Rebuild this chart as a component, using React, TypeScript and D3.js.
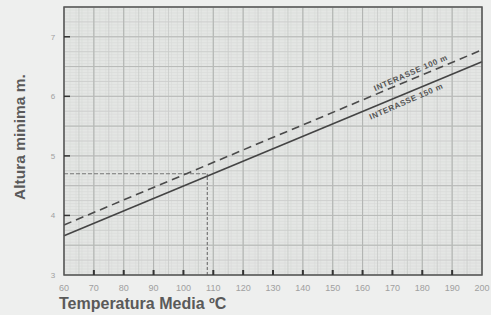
import React from "react";
import * as d3 from "d3";

const temps = [60, 200];
const interasse100 = [3.84, 6.78];
const interasse150 = [3.66, 6.58];
const xTicks = [60, 70, 80, 90, 100, 110, 120, 130, 140, 150, 160, 170, 180, 190, 200];
const yTicks = [3, 4, 5, 6, 7];
const refTemp = [108];
const refAltura = [4.7];
const lineLabels = ["INTERASSE 100 m", "INTERASSE 150 m"];

const W = 491, H = 315;
const L = 64, R = 482, T = 7, B = 275;

export default function App() {
  const x = d3.scaleLinear().domain([60, 200]).range([L, R]);
  const y = d3.scaleLinear().domain([3, 7.5]).range([B, T]);

  const minorX = d3.range(60, 200.01, 2);
  const midX = d3.range(60, 200.01, 5);
  const majorX = d3.range(60, 200.01, 10);
  const minorY = d3.range(3, 7.501, 0.05);
  const midY = d3.range(3, 7.501, 0.25);
  const majorY = d3.range(3, 7.501, 0.5);

  const line = d3.line<[number, number]>().x(d => x(d[0])).y(d => y(d[1]));
  const d100 = line(temps.map((t, i) => [t, interasse100[i]] as [number, number]))!;
  const d150 = line(temps.map((t, i) => [t, interasse150[i]] as [number, number]))!;

  const ang = (Math.atan2(y(interasse150[1]) - y(interasse150[0]), x(temps[1]) - x(temps[0])) * 180) / Math.PI - 1;

  const lab = (t: number, vals: number[], off: number) => {
    const v = vals[0] + ((vals[1] - vals[0]) * (t - temps[0])) / (temps[1] - temps[0]);
    return [x(t), y(v) + off];
  };
  const p1 = lab(176.5, interasse100, -4);
  const p2 = lab(175, interasse150, 11);

  const font = "Liberation Sans, Arial, sans-serif";

  return (
    <svg width={W} height={H} style={{ position: "absolute", left: 0, top: 0 }}>
      <rect x={0} y={0} width={W} height={H} fill="#eeefee" />
      <rect x={L} y={T} width={R - L} height={B - T} fill="#e4e6e4" />
      {minorX.map(v => (
        <line key={"mx" + v} x1={x(v)} x2={x(v)} y1={T} y2={B} stroke="#d8dad8" strokeWidth={0.6} />
      ))}
      {minorY.map(v => (
        <line key={"my" + v} x1={L} x2={R} y1={y(v)} y2={y(v)} stroke="#d8dad8" strokeWidth={0.6} />
      ))}
      {midX.map(v => (
        <line key={"dx" + v} x1={x(v)} x2={x(v)} y1={T} y2={B} stroke="#c8cac8" strokeWidth={0.8} />
      ))}
      {midY.map(v => (
        <line key={"dy" + v} x1={L} x2={R} y1={y(v)} y2={y(v)} stroke="#cbcdcb" strokeWidth={0.8} />
      ))}
      {majorX.map(v => (
        <line key={"jx" + v} x1={x(v)} x2={x(v)} y1={T} y2={B} stroke="#b2b4b2" strokeWidth={1} />
      ))}
      {majorY.map(v => (
        <line key={"jy" + v} x1={L} x2={R} y1={y(v)} y2={y(v)} stroke="#b8bab8" strokeWidth={1} />
      ))}

      <line x1={x(60)} x2={x(refTemp[0])} y1={y(refAltura[0])} y2={y(refAltura[0])} stroke="#777" strokeWidth={1.2} strokeDasharray="4 2" />
      <line x1={x(refTemp[0])} x2={x(refTemp[0])} y1={y(3)} y2={y(refAltura[0])} stroke="#777" strokeWidth={1.2} strokeDasharray="3 2" />

      <path d={d100} fill="none" stroke="#4a4a4a" strokeWidth={1.6} strokeDasharray="8 5" />
      <path d={d150} fill="none" stroke="#444" strokeWidth={1.6} />

      <text x={p1[0]} y={p1[1]} transform={`rotate(${ang} ${p1[0]} ${p1[1]})`} textAnchor="middle" fontFamily={font} fontSize={8} fontWeight="bold" letterSpacing={0.6} fill="#555">{lineLabels[0]}</text>
      <text x={p2[0]} y={p2[1]} transform={`rotate(${ang} ${p2[0]} ${p2[1]})`} textAnchor="middle" fontFamily={font} fontSize={8} fontWeight="bold" letterSpacing={0.6} fill="#555">{lineLabels[1]}</text>

      <rect x={L} y={T} width={R - L} height={B - T} fill="none" stroke="#555" strokeWidth={1.5} />

      {xTicks.slice(1, -1).map(v => (
        <line key={"tx" + v} x1={x(v)} x2={x(v)} y1={B} y2={B - 5} stroke="#333" strokeWidth={2} />
      ))}
      {yTicks.slice(1).map(v => (
        <line key={"ty" + v} x1={L} x2={L + 6} y1={y(v)} y2={y(v)} stroke="#333" strokeWidth={1.5} />
      ))}

      {xTicks.map(v => (
        <text key={"lx" + v} x={x(v)} y={291} textAnchor="middle" fontFamily={font} fontSize={9} fill="#a0a0a0">{v}</text>
      ))}
      {yTicks.map(v => (
        <text key={"ly" + v} x={53} y={y(v) + 3} textAnchor="middle" fontFamily={font} fontSize={8} fill="#a0a0a0">{v}</text>
      ))}

      <text x={59} y={309} fontFamily={font} fontSize={16} fontWeight="bold" fill="#5a5a5a">Temperatura Media ºC</text>
      <text transform="rotate(-90)" x={-137} y={25} textAnchor="middle" fontFamily={font} fontSize={15.5} fontWeight="bold" fill="#5a5a5a">Altura minima m.</text>
    </svg>
  );
}
